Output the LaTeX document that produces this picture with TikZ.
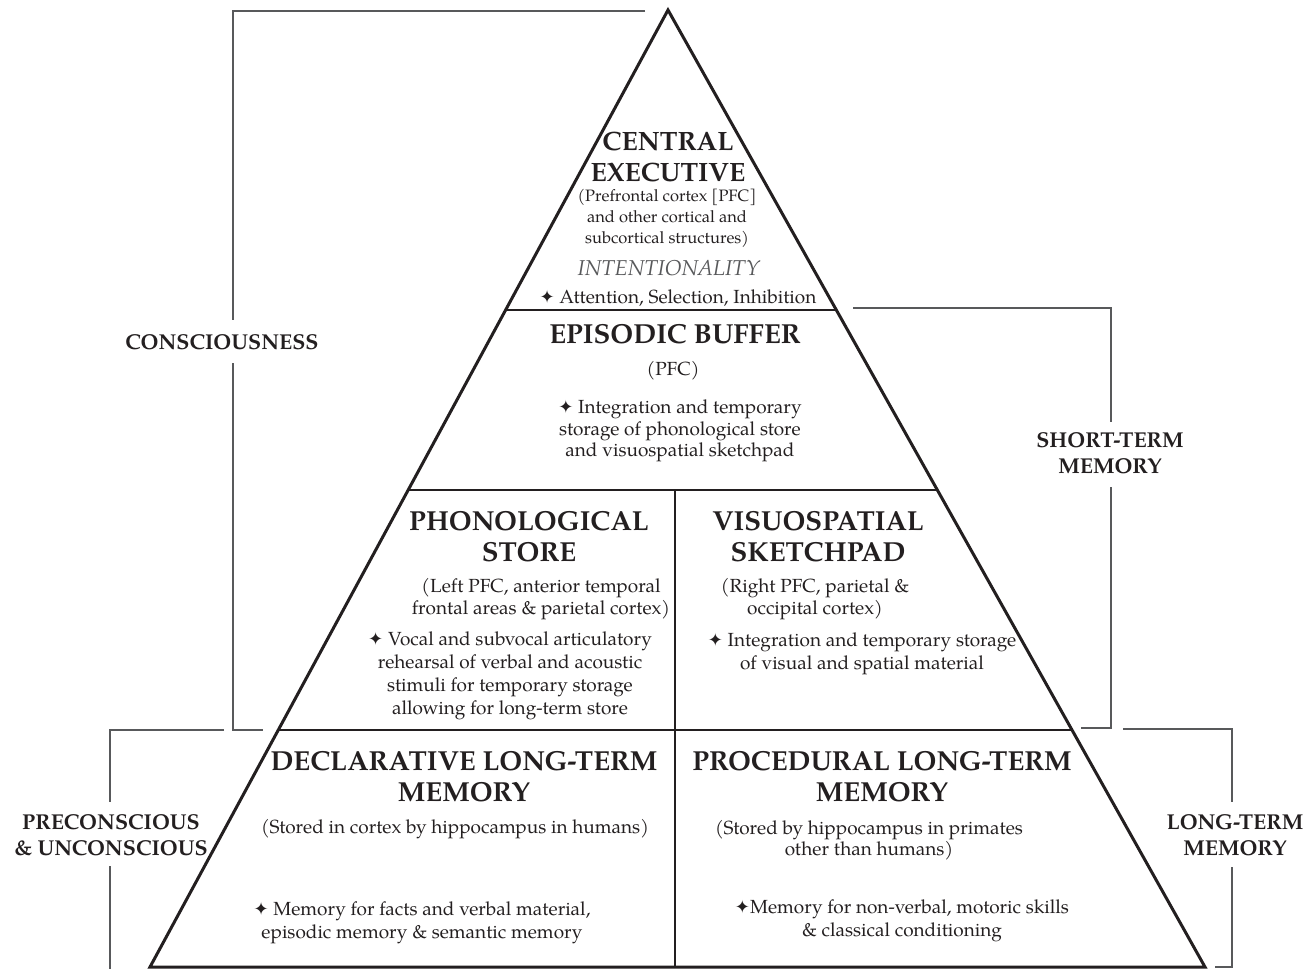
\documentclass[tikz,border=0pt]{standalone}
\usepackage{fontspec}
\setmainfont{TeX Gyre Pagella}
\newfontfamily\symfont{DejaVu Sans}
\usetikzlibrary{calc}
\definecolor{ink}{HTML}{231F20}
\definecolor{brk}{HTML}{58595B}
\newcommand{\dstar}{{\symfont\fontsize{18}{18}\selectfont ✦}}
\tikzset{
  pyr/.style={draw=ink, line width=3pt, line join=miter},
  divline/.style={draw=ink, line width=2.5pt},
  bracket/.style={draw=brk, line width=1.5pt},
  head/.style={font=\fontsize{27.5}{31}\selectfont\bfseries, text=ink, align=center, inner sep=0pt},
  body/.style={font=\fontsize{19}{21.5}\selectfont, text=ink, align=center, inner sep=0pt},
  side/.style={font=\fontsize{21.5}{26}\selectfont\bfseries, text=ink, align=center, inner sep=0pt},
}
\begin{document}
\begin{tikzpicture}[x=1pt,y=-1pt]
\useasboundingbox (0,0) rectangle (1310,969);
% pyramid corners
\coordinate (A) at (668,10);
\coordinate (BL) at (150,967);
\coordinate (BR) at (1205,967);
\coordinate (L1) at ($(A)!0.3135!(BL)$);
\coordinate (R1) at ($(A)!0.3135!(BR)$);
\coordinate (L2) at ($(A)!0.5016!(BL)$);
\coordinate (R2) at ($(A)!0.5016!(BR)$);
\coordinate (L3) at ($(A)!0.7524!(BL)$);
\coordinate (R3) at ($(A)!0.7524!(BR)$);
\coordinate (M2) at (675,490);
\coordinate (MB) at (675,967);
\draw[divline] (L1) -- (R1);
\draw[divline] (L2) -- (R2);
\draw[divline] (L3) -- (R3);
\draw[divline] (M2) -- (MB);
\draw[pyr] (A) -- (BL) -- (BR) -- cycle;

% brackets
\coordinate (c1) at (645,11); \coordinate (c2) at (233,11); \coordinate (c3) at (233,320);
\coordinate (c4) at (233,363); \coordinate (c5) at (233,730); \coordinate (c6) at (263,730);
\draw[bracket] (c1) -- (c2) -- (c3);
\draw[bracket] (c4) -- (c5) -- (c6);
\coordinate (s1) at (853,308); \coordinate (s2) at (1111,308); \coordinate (s3) at (1111,422);
\coordinate (s4) at (1111,487); \coordinate (s5) at (1111,728); \coordinate (s6) at (1081,728);
\draw[bracket] (s1) -- (s2) -- (s3);
\draw[bracket] (s4) -- (s5) -- (s6);
\coordinate (p1) at (224,730); \coordinate (p2) at (110,730); \coordinate (p3) at (110,802);
\coordinate (p4) at (110,866); \coordinate (p5) at (110,969);
\draw[bracket] (p1) -- (p2) -- (p3);
\draw[bracket] (p4) -- (p5);
\coordinate (l1) at (1123,729); \coordinate (l2) at (1232,729); \coordinate (l3) at (1232,802);
\coordinate (l4) at (1232,867); \coordinate (l5) at (1232,967); \coordinate (l6) at (1215,967);
\draw[bracket] (l1) -- (l2) -- (l3);
\draw[bracket] (l4) -- (l5) -- (l6);

% side labels
\node[side] (cons) at (222,342) {CONSCIOUSNESS};
\node[side] (stm) at (1110,453) {SHORT-TERM\\MEMORY};
\node[side] (pre) at (111,835) {PRECONSCIOUS\\\&~UNCONSCIOUS};
\node[side] (ltm) at (1235,835) {LONG-TERM\\MEMORY};

% central executive
\node[head, font=\fontsize{26.5}{31}\selectfont\bfseries] (ce) at (668,157) {CENTRAL\\EXECUTIVE};
\node[body, font=\fontsize{16.5}{21}\selectfont] (ceb) at (667,218) {(Prefrontal cortex [PFC]\\and other cortical and\\subcortical structures)};
\node[body, font=\fontsize{21.5}{22}\selectfont\itshape, text=brk] (int) at (669,268) {INTENTIONALITY};
\node[body] (att) at (678,298) {\dstar\ Attention, Selection, Inhibition};

% episodic buffer
\node[head] (eb) at (675,334) {EPISODIC BUFFER};
\node[body] (ebp) at (673,371) {(PFC)};
\node[body] (ebt) at (680,431) {\dstar\ Integration and temporary\\storage of phonological store\\and visuospatial sketchpad};

% phonological store
\node[head] (ph) at (529,537) {PHONOLOGICAL\\STORE};
\node[body] (phb) at (541,599) {(Left PFC, anterior temporal\\frontal areas \& parietal cortex)};
\node[body, font=\fontsize{19}{23}\selectfont] (pht) at (510,676) {\dstar\ Vocal and subvocal articulatory\\rehearsal of verbal and acoustic\\stimuli for temporary storage\\allowing for long-term store};

% visuospatial sketchpad
\node[head] (vs) at (818,537) {VISUOSPATIAL\\SKETCHPAD};
\node[body] (vsb) at (815,599) {(Right PFC, parietal \&\\occipital cortex)};
\node[body, font=\fontsize{19}{23}\selectfont] (vst) at (862,654) {\dstar\ Integration and temporary storage\\of visual and spatial material};

% declarative
\node[head] (dl) at (464,777) {DECLARATIVE LONG-TERM\\MEMORY};
\node[body] (dlb) at (455,829) {(Stored in cortex by hippocampus in humans)};
\node[body, font=\fontsize{19}{23}\selectfont] (dlt) at (422,923) {\dstar\ Memory for facts and verbal material,\\episodic memory \& semantic memory};

% procedural
\node[head] (pl) at (882,777) {PROCEDURAL LONG-TERM\\MEMORY};
\node[body] (plb) at (869,840) {(Stored by hippocampus in primates\\other than humans)};
\node[body, font=\fontsize{19}{23}\selectfont] (plt) at (902,921) {\dstar Memory for non-verbal, motoric skills\\\& classical conditioning};
\end{tikzpicture}
\end{document}
